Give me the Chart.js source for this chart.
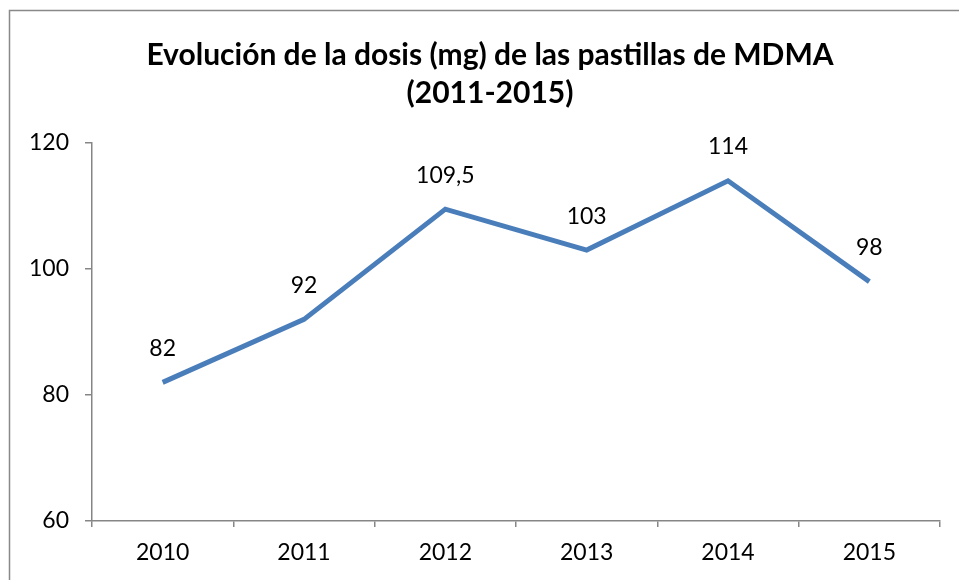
<!DOCTYPE html>
<html>
<head>
<meta charset="utf-8">
<script src="https://cdn.jsdelivr.net/npm/chart.js@4"></script>
<style>
  html, body { margin: 0; padding: 0; background: #fff; }
  #wrap { width: 959px; height: 580px; }
</style>
</head>
<body>
<div id="wrap"><canvas id="chart" width="959" height="580"></canvas></div>
<script>
// datos
const years = ['2010', '2011', '2012', '2013', '2014', '2015'];
const dosis = [82, 92, 109.5, 103, 114, 98];
const yTicks = [60, 80, 100, 120];
const titleLines = ['Evolución de la dosis (mg) de las pastillas de MDMA', '(2011-2015)'];

const FONT = 'Lato, "Open Sans", sans-serif';
const AXIS = '#868686';

// marco del grafico y titulo (como en Excel)
const frame = {
  id: 'frame',
  beforeDraw(chart) {
    const c = chart.ctx;
    c.save();
    c.strokeStyle = '#898989';
    c.lineWidth = 1.5;
    c.strokeRect(9.5, 10.5, 1200, 1200);
    c.font = 'bold 30px ' + FONT;
    c.fillStyle = '#000';
    c.textAlign = 'center';
    c.textBaseline = 'middle';
    titleLines.forEach((t, i) => c.fillText(t, 490, 55 + i * 38));
    c.restore();
  }
};

// etiquetas de datos encima de cada punto
const dataLabels = {
  id: 'dataLabels',
  afterDatasetsDraw(chart) {
    const c = chart.ctx;
    const meta = chart.getDatasetMeta(0);
    c.save();
    c.font = '23px ' + FONT;
    c.fillStyle = '#000';
    c.textAlign = 'center';
    c.textBaseline = 'middle';
    meta.data.forEach((pt, i) => {
      const v = chart.data.datasets[0].data[i];
      c.fillText(String(v).replace('.', ','), pt.x, pt.y - 34);
    });
    c.restore();
  }
};

new Chart(document.getElementById('chart'), {
  type: 'line',
  data: {
    labels: years,
    datasets: [{
      data: dosis,
      borderColor: '#4A7EBB',
      borderWidth: 5,
      pointRadius: 0,
      tension: 0,
      borderJoinStyle: 'miter'
    }]
  },
  options: {
    responsive: false,
    animation: false,
    layout: { padding: { left: 10, right: 19, top: 143, bottom: 0 } },
    plugins: {
      legend: { display: false },
      tooltip: { enabled: false },
      title: { display: false }
    },
    scales: {
      x: {
        offset: true,
        grid: { offset: true, drawOnChartArea: false, drawTicks: true, tickLength: 6, color: AXIS, lineWidth: 1.5 },
        border: { color: AXIS, width: 1.5 },
        ticks: { color: '#000', font: { family: FONT, size: 23 }, padding: 12, maxRotation: 0 },
        afterFit(s) { s.height = 59; }
      },
      y: {
        min: 60,
        max: 120,
        afterBuildTicks(s) { s.ticks = yTicks.map(v => ({ value: v })); },
        grid: { drawOnChartArea: false, drawTicks: true, tickLength: 7, color: AXIS, lineWidth: 1.5 },
        border: { color: AXIS, width: 1.5 },
        ticks: { color: '#000', font: { family: FONT, size: 23 }, padding: 16 },
        afterFit(s) { s.width = 82; }
      }
    }
  },
  plugins: [frame, dataLabels]
});
</script>
</body>
</html>
